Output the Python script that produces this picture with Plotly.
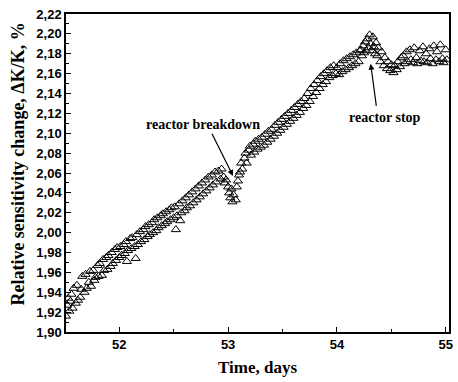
import plotly.graph_objects as go

# Time, days
time_days = [
    51.51, 51.52, 51.53, 51.54, 51.55, 51.56, 51.57, 51.58, 51.60, 51.61, 51.62, 51.64, 51.65, 51.66,
    51.68, 51.69, 51.70, 51.72, 51.73, 51.74, 51.76, 51.77, 51.78, 51.80, 51.81, 51.82, 51.84, 51.85,
    51.86, 51.88, 51.89, 51.90, 51.92, 51.93, 51.94, 51.96, 51.97, 51.98, 52.00,
    52.01, 52.02, 52.04, 52.05, 52.06, 52.07, 52.08, 52.10, 52.11, 52.12, 52.14, 52.15, 52.16, 52.17,
    52.19, 52.20, 52.22, 52.23, 52.24, 52.26, 52.27, 52.28, 52.30, 52.31, 52.32, 52.34, 52.35, 52.36,
    52.38, 52.39, 52.40, 52.42, 52.43, 52.44, 52.46, 52.47, 52.48, 52.50, 52.51, 52.52, 52.53, 52.55,
    52.56, 52.57, 52.58, 52.60, 52.61, 52.62, 52.64, 52.65, 52.67, 52.68, 52.70, 52.71, 52.73, 52.74,
    52.76, 52.77, 52.79, 52.80, 52.82, 52.83, 52.85, 52.86, 52.88, 52.89, 52.91, 52.93, 52.94,
    52.96, 52.97, 52.98, 53.00, 53.01, 53.02, 53.03, 53.04, 53.05, 53.07, 53.08, 53.09, 53.10,
    53.11, 53.12, 53.13, 53.15, 53.16, 53.17, 53.19, 53.20, 53.21, 53.23, 53.24, 53.25, 53.27, 53.28,
    53.30, 53.31, 53.33, 53.34, 53.36, 53.37, 53.39, 53.40, 53.42, 53.43, 53.45, 53.46, 53.48, 53.49,
    53.51, 53.52, 53.54, 53.55, 53.57, 53.58, 53.60, 53.61, 53.63, 53.64, 53.66, 53.67, 53.69, 53.70,
    53.72, 53.73, 53.75, 53.76, 53.78, 53.79, 53.81, 53.82, 53.84, 53.85, 53.87, 53.88, 53.90, 53.91,
    53.93, 53.94, 53.96, 53.97, 53.99,
    54.00, 54.02, 54.03, 54.05, 54.06, 54.08, 54.09, 54.11, 54.12, 54.14, 54.15, 54.17, 54.18, 54.20, 54.21,
    54.22, 54.23, 54.24, 54.25, 54.26, 54.27, 54.28, 54.29, 54.30, 54.31, 54.32, 54.33, 54.34, 54.35,
    54.36, 54.37, 54.38, 54.40, 54.41, 54.43, 54.44, 54.46, 54.47, 54.49, 54.50, 54.52, 54.53, 54.55,
    54.56, 54.58, 54.59,
    54.61, 54.62, 54.64, 54.65, 54.67, 54.68, 54.70, 54.71, 54.73, 54.74, 54.76, 54.77, 54.79, 54.80,
    54.82, 54.83, 54.85, 54.86, 54.88, 54.89, 54.91, 54.92, 54.94, 54.95, 54.97, 54.98, 55.00, 55.01,
]

# Relative sensitivity change, ΔK/K, %
sensitivity = [
    1.916, 1.927, 1.934, 1.921, 1.931, 1.938, 1.924, 1.944, 1.929, 1.947, 1.932, 1.935, 1.943, 1.956,
    1.940, 1.958, 1.944, 1.950, 1.961, 1.946, 1.962, 1.952, 1.955, 1.967, 1.956, 1.969, 1.957, 1.973,
    1.962, 1.975, 1.963, 1.977, 1.966, 1.980, 1.969, 1.983, 1.972, 1.985, 1.975,
    1.986, 1.977, 1.988, 1.979, 1.991, 1.971, 1.982, 1.994, 1.984, 1.995, 1.986, 1.974, 1.998, 1.988,
    2.001, 1.991, 2.003, 1.993, 2.006, 1.996, 2.008, 1.998, 2.010, 2.000, 2.013, 2.002, 2.015, 2.005,
    2.017, 2.007, 2.019, 2.009, 2.021, 2.011, 2.023, 2.013, 2.025, 2.015, 2.026, 2.003, 2.017, 2.029,
    2.012, 2.020, 2.032, 2.022, 2.035, 2.025, 2.038, 2.027, 2.041, 2.030, 2.044, 2.033, 2.047, 2.036,
    2.050, 2.039, 2.053, 2.042, 2.056, 2.045, 2.058, 2.048, 2.061, 2.051, 2.062, 2.054, 2.064,
    2.056, 2.050, 2.053, 2.046, 2.040, 2.035, 2.044, 2.031, 2.038, 2.033, 2.046, 2.052, 2.058,
    2.061, 2.070, 2.064, 2.075, 2.080, 2.070, 2.083, 2.087, 2.078, 2.089, 2.081, 2.092, 2.084, 2.094,
    2.086, 2.096, 2.088, 2.099, 2.091, 2.102, 2.094, 2.104, 2.097, 2.108, 2.100, 2.111, 2.103, 2.114,
    2.106, 2.117, 2.109, 2.120, 2.112, 2.123, 2.115, 2.126, 2.118, 2.129, 2.121, 2.132, 2.125, 2.135,
    2.128, 2.140, 2.132, 2.145, 2.137, 2.149, 2.141, 2.153, 2.145, 2.157, 2.149, 2.160, 2.152, 2.163,
    2.156, 2.166, 2.158, 2.168, 2.160,
    2.166, 2.159, 2.170, 2.162, 2.173, 2.164, 2.175, 2.166, 2.177, 2.168, 2.179, 2.170, 2.181, 2.172, 2.183,
    2.184, 2.178, 2.188, 2.181, 2.192, 2.183, 2.195, 2.186, 2.199, 2.190, 2.183, 2.197, 2.187, 2.180,
    2.191, 2.178, 2.186, 2.172, 2.182, 2.168, 2.176, 2.165, 2.172, 2.163, 2.169, 2.161, 2.168, 2.164,
    2.172, 2.167, 2.176,
    2.178, 2.170, 2.182, 2.172, 2.184, 2.174, 2.171, 2.186, 2.176, 2.170, 2.183, 2.173, 2.187, 2.172,
    2.180, 2.171, 2.185, 2.175, 2.170, 2.188, 2.174, 2.182, 2.172, 2.189, 2.175, 2.171, 2.184, 2.174,
]

x_ticks = [52, 53, 54, 55]
y_ticks = [1.90, 1.92, 1.94, 1.96, 1.98, 2.00, 2.02, 2.04, 2.06, 2.08, 2.10,
           2.12, 2.14, 2.16, 2.18, 2.20, 2.22]

fig = go.Figure()
fig.add_trace(go.Scatter(
    x=time_days, y=sensitivity, mode="markers",
    marker=dict(symbol="triangle-up-open", size=8, color="black",
                line=dict(width=1, color="black")),
    showlegend=False,
))

serif = "Liberation Serif, Times New Roman, serif"
sans = "Liberation Sans, Arial, sans-serif"

fig.update_layout(
    width=458, height=382,
    margin=dict(l=66, r=5, t=14, b=50),
    paper_bgcolor="white", plot_bgcolor="white",
    separators=",.",
    xaxis=dict(
        range=[51.51, 55.03], tickvals=x_ticks, ticks="inside", ticklen=5, tickwidth=1,
        tickcolor="black", showline=True, linecolor="black", linewidth=1.5, mirror=True,
        showgrid=False, zeroline=False,
        tickfont=dict(family=sans, size=13, color="black", weight="bold"),
        minor=dict(dtick=0.5, tick0=51.5, ticks="inside", ticklen=3, tickcolor="black", showgrid=False),
        title=dict(text="<b>Time, days</b>", font=dict(family=serif, size=17, color="black"), standoff=10),
    ),
    yaxis=dict(
        range=[1.90, 2.22], tickvals=y_ticks, tickformat=".2f", ticks="inside", ticklen=5, tickwidth=1,
        tickcolor="black", showline=True, linecolor="black", linewidth=1.5, mirror=True,
        showgrid=False, zeroline=False,
        tickfont=dict(family=sans, size=13, color="black", weight="bold"),
        minor=dict(dtick=0.01, tick0=1.90, ticks="inside", ticklen=3, tickcolor="black", showgrid=False),
    ),
    annotations=[
        dict(x=-0.124, y=0.528, xref="paper", yref="paper", textangle=-90,
             xanchor="center", yanchor="middle",
             text="<b>Relative sensitivity change, ΔK/K, %</b>", showarrow=False,
             font=dict(family=serif, size=18, color="black")),
        dict(x=52.77, y=2.109, xref="x", yref="y", text="<b>reactor breakdown</b>", showarrow=False,
             font=dict(family=serif, size=14, color="black")),
        dict(x=53.045, y=2.057, xref="x", yref="y", ax=52.845, ay=2.101, axref="x", ayref="y",
             text="", showarrow=True, arrowhead=2, arrowsize=1, arrowwidth=1.2, arrowcolor="black"),
        dict(x=54.445, y=2.116, xref="x", yref="y", text="<b>reactor stop</b>", showarrow=False,
             font=dict(family=serif, size=14, color="black")),
        dict(x=54.31, y=2.170, xref="x", yref="y", ax=54.364, ay=2.126, axref="x", ayref="y",
             text="", showarrow=True, arrowhead=2, arrowsize=1, arrowwidth=1.2, arrowcolor="black"),
    ],
)

fig.write_html("out.html")
